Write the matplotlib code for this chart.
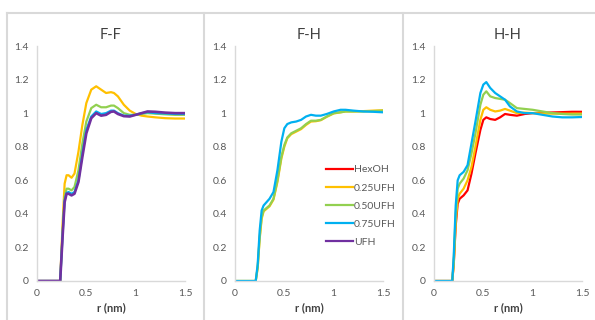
import matplotlib.pyplot as plt
from matplotlib.lines import Line2D

plt.rcParams['font.family'] = ['Lato', 'DejaVu Sans']

W, H = 595, 320

colors = {"HexOH": "#FF0000", "0.25UFH": "#FFC000", "0.50UFH": "#92D050",
          "0.75UFH": "#00B0F0", "UFH": "#7030A0"}

# F-F
ff_r = [0, 0.235, 0.26, 0.28, 0.30, 0.32, 0.35, 0.38, 0.42, 0.46, 0.50, 0.55, 0.60, 0.65,
        0.70, 0.75, 0.78, 0.82, 0.88, 0.94, 1.0, 1.06, 1.12, 1.2, 1.3, 1.4, 1.5]
ff_025 = [0, 0, 0.35, 0.58, 0.63, 0.63, 0.615, 0.64, 0.77, 0.93, 1.06, 1.14, 1.16, 1.14,
          1.12, 1.125, 1.12, 1.10, 1.05, 1.015, 0.995, 0.985, 0.98, 0.975, 0.97, 0.968, 0.968]
ff_050 = [0, 0, 0.3, 0.5, 0.55, 0.55, 0.54, 0.56, 0.66, 0.82, 0.95, 1.03, 1.05, 1.035,
          1.035, 1.045, 1.045, 1.03, 1.0, 0.99, 0.99, 0.995, 1.0, 0.997, 0.993, 0.99, 0.99]
ff_075 = [0, 0, 0.28, 0.48, 0.525, 0.53, 0.52, 0.53, 0.60, 0.76, 0.90, 0.98, 1.01, 0.995,
          1.0, 1.015, 1.015, 1.0, 0.985, 0.985, 0.99, 1.0, 1.005, 1.0, 0.998, 0.995, 0.995]
ff_ufh = [0, 0, 0.27, 0.47, 0.52, 0.52, 0.51, 0.52, 0.59, 0.74, 0.88, 0.97, 1.0, 0.985,
          0.99, 1.008, 1.01, 0.995, 0.982, 0.98, 0.99, 1.0, 1.01, 1.008, 1.003, 1.0, 1.0]

# F-H
fh_r = [0, 0.21, 0.23, 0.25, 0.27, 0.29, 0.32, 0.35, 0.39, 0.43, 0.47, 0.50, 0.53, 0.57,
        0.62, 0.67, 0.72, 0.77, 0.82, 0.87, 0.93, 1.0, 1.07, 1.12, 1.2, 1.3, 1.4, 1.5]
fh_025 = [0, 0, 0.08, 0.25, 0.37, 0.415, 0.43, 0.445, 0.485, 0.59, 0.73, 0.8, 0.85, 0.875,
          0.89, 0.905, 0.93, 0.95, 0.952, 0.958, 0.978, 0.998, 1.005, 1.01, 1.01, 1.012, 1.015, 1.017]
fh_050 = [0, 0, 0.08, 0.26, 0.38, 0.42, 0.435, 0.45, 0.49, 0.6, 0.74, 0.81, 0.855, 0.88,
          0.895, 0.91, 0.935, 0.955, 0.955, 0.96, 0.98, 1.0, 1.005, 1.01, 1.01, 1.01, 1.012, 1.015]
fh_075 = [0, 0, 0.1, 0.3, 0.42, 0.45, 0.47, 0.49, 0.53, 0.66, 0.83, 0.91, 0.935, 0.945,
          0.95, 0.96, 0.98, 0.99, 0.985, 0.985, 0.995, 1.01, 1.02, 1.02, 1.015, 1.01, 1.008, 1.005]

# H-H
hh_r = [0, 0.185, 0.20, 0.22, 0.24, 0.26, 0.30, 0.34, 0.38, 0.42, 0.47, 0.50, 0.53, 0.57,
        0.62, 0.67, 0.72, 0.77, 0.84, 0.92, 1.0, 1.1, 1.2, 1.3, 1.4, 1.5]
hh_hex = [0, 0, 0.1, 0.33, 0.46, 0.49, 0.51, 0.54, 0.64, 0.76, 0.9, 0.96, 0.975, 0.965,
          0.96, 0.975, 0.995, 0.99, 0.985, 0.995, 1.0, 1.002, 1.004, 1.006, 1.008, 1.008]
hh_025 = [0, 0, 0.1, 0.35, 0.49, 0.52, 0.55, 0.60, 0.68, 0.80, 0.96, 1.02, 1.035, 1.02,
          1.01, 1.015, 1.025, 1.015, 1.0, 1.003, 1.0, 0.998, 0.997, 0.997, 0.997, 0.997]
hh_050 = [0, 0, 0.12, 0.4, 0.55, 0.58, 0.61, 0.66, 0.76, 0.88, 1.05, 1.11, 1.13, 1.1,
          1.09, 1.085, 1.08, 1.06, 1.03, 1.025, 1.02, 1.01, 1.0, 0.995, 0.992, 0.992]
hh_075 = [0, 0, 0.15, 0.45, 0.6, 0.63, 0.65, 0.69, 0.82, 0.95, 1.12, 1.17, 1.185, 1.15,
          1.12, 1.10, 1.08, 1.04, 1.01, 1.0, 1.0, 0.99, 0.98, 0.975, 0.975, 0.977]

panels = [
    ("F-F", 37, ff_r, [("0.25UFH", ff_025), ("0.50UFH", ff_050), ("0.75UFH", ff_075), ("UFH", ff_ufh)]),
    ("F-H", 235, fh_r, [("0.25UFH", fh_025), ("0.50UFH", fh_050), ("0.75UFH", fh_075)]),
    ("H-H", 434, hh_r, [("HexOH", hh_hex), ("0.25UFH", hh_025), ("0.50UFH", hh_050), ("0.75UFH", hh_075)]),
]

fig = plt.figure(figsize=(W / 100, H / 100), dpi=100)

# panel frames
gray = "#D9D9D9"
fig.add_artist(Line2D([7 / W, 1], [1 - 13 / H] * 2, color=gray, lw=1.5))
for xp in [7, 204, 403]:
    fig.add_artist(Line2D([xp / W] * 2, [0, 1 - 13 / H], color=gray, lw=1.5))

for title, left, r, series in panels:
    ax = fig.add_axes([left / W, 39 / H, 148 / W, 235 / H])
    for name, vals in series:
        ax.plot(r, vals, color=colors[name], lw=1.6 if name != "UFH" else 1.9,
                solid_joinstyle="round")
    ax.set_xlim(0, 1.5)
    ax.set_ylim(0, 1.4)
    ax.set_xticks([0, 0.5, 1, 1.5])
    ax.set_xticklabels(["0", "0.5", "1", "1.5"])
    ax.set_yticks([0, 0.2, 0.4, 0.6, 0.8, 1.0, 1.2, 1.4])
    ax.set_yticklabels(["0", "0.2", "0.4", "0.6", "0.8", "1", "1.2", "1.4"])
    ax.tick_params(length=0, labelsize=7.5, colors="#595959", pad=6)
    for s in ["top", "right"]:
        ax.spines[s].set_visible(False)
    for s in ["left", "bottom"]:
        ax.spines[s].set_color(gray)
        ax.spines[s].set_linewidth(1.0)
    ax.set_title(title, fontsize=10.5, color="#404040", pad=5)
    ax.set_xlabel("r (nm)", fontsize=8, fontweight="bold", color="#404040", labelpad=3)
    ax.patch.set_visible(False)
    if title == "F-H":
        handles = [Line2D([], [], color=c, lw=1.6) for c in colors.values()]
        ax.legend(handles, list(colors.keys()), loc="upper left",
                  bbox_to_anchor=(0.58, 0.515), frameon=False, fontsize=7.5,
                  handlelength=2.6, handletextpad=0.1, labelspacing=0.85,
                  labelcolor="#595959", borderpad=0)

fig.savefig("out.png", dpi=100)
